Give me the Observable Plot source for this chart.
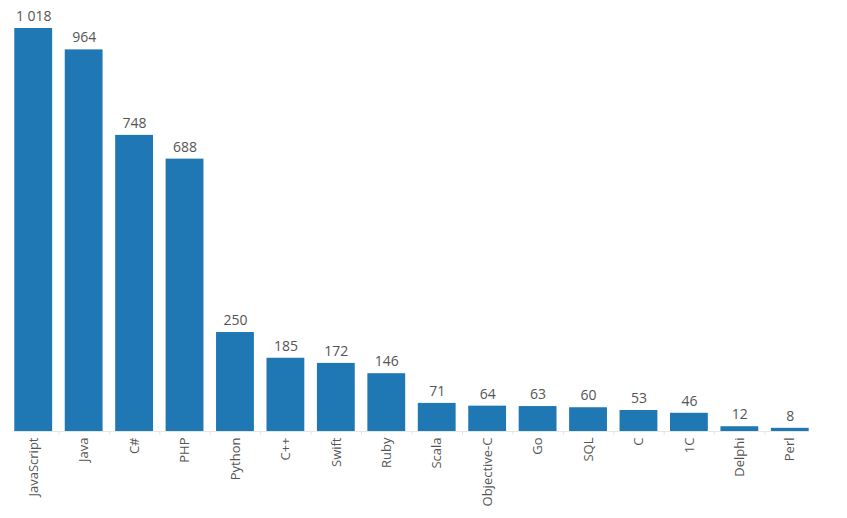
<!DOCTYPE html>
<html>
<head>
<meta charset="utf-8">
<script src="https://cdn.jsdelivr.net/npm/d3@7"></script>
<script src="https://cdn.jsdelivr.net/npm/@observablehq/plot@0.6"></script>
<style>
  html, body { margin: 0; padding: 0; background: #fff; }
  #chart svg { display: block; }
</style>
</head>
<body>
<div id="chart"></div>
<script>
const languages = ["JavaScript", "Java", "C#", "PHP", "Python", "C++", "Swift", "Ruby", "Scala", "Objective-C", "Go", "SQL", "C", "1C", "Delphi", "Perl"];
const counts = [1018, 964, 748, 688, 250, 185, 172, 146, 71, 64, 63, 60, 53, 46, 12, 8];

const data = languages.map((lang, i) => ({lang, count: counts[i]}));
const fmt = d => d3.format(",")(d).replace(/,/g, " ");

const W = 847, H = 518, mL = 8, mR = 32;
const step = (W - mL - mR) / languages.length;

const chart = Plot.plot({
  width: W,
  height: H,
  marginLeft: mL,
  marginRight: mR,
  marginTop: 28,
  marginBottom: 87,
  style: {fontFamily: "'Open Sans', sans-serif", color: "#555", background: "#fff"},
  x: {domain: languages, paddingInner: 0.25, paddingOuter: 0.125, round: false, label: null},
  y: {domain: [0, 1018], axis: null},
  marks: [
    Plot.ruleY([0], {stroke: "#e6e6e6", insetLeft: 6, insetRight: 6}),
    Plot.axisX(languages.slice(1), {tickSize: 4, text: null, dx: -step / 2, stroke: "#e6e6e6", label: null}),
    Plot.axisX({tickSize: 0, tickPadding: 6, tickRotate: -90, fontSize: 13, fill: "#555", label: null}),
    Plot.barY(data, {x: "lang", y: "count", fill: "#1f77b4"}),
    Plot.text(data, {x: "lang", y: "count", text: d => fmt(d.count), dy: -12, fontSize: 14, fill: "#555"})
  ]
});
document.getElementById("chart").append(chart);
</script>
</body>
</html>
